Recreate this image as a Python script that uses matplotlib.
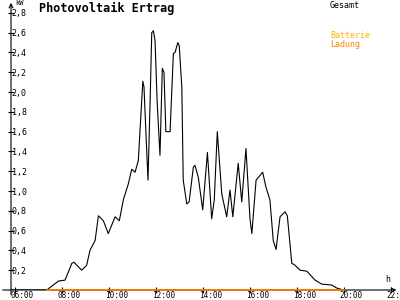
import matplotlib.pyplot as plt
from matplotlib.transforms import ScaledTranslation

# Gesamt (total) output in kW over time of day (hours)
hours = [5.84, 7.36, 7.86, 8.14, 8.43, 8.52, 8.85, 9.06, 9.20, 9.42, 9.56, 9.77, 9.98,
         10.27, 10.45, 10.62, 10.83, 10.98, 11.12, 11.26, 11.33, 11.45, 11.50, 11.62,
         11.67, 11.76, 11.83, 11.90, 11.97, 12.06, 12.18, 12.28, 12.35, 12.43, 12.61,
         12.75, 12.82, 12.94, 13.00, 13.11, 13.17, 13.32, 13.42, 13.60, 13.67, 13.81,
         14.00, 14.20, 14.38, 14.49, 14.62, 14.81, 15.02, 15.16, 15.28, 15.51, 15.66,
         15.84, 16.01, 16.09, 16.27, 16.55, 16.69, 16.86, 17.00, 17.12, 17.29, 17.50,
         17.60, 17.79, 17.93, 18.14, 18.43, 18.78, 19.06, 19.49, 19.70, 19.99]
total_kw = [0.0, 0.0, 0.09, 0.10, 0.27, 0.28, 0.20, 0.25, 0.40, 0.50, 0.75, 0.70, 0.57,
            0.74, 0.70, 0.91, 1.07, 1.22, 1.19, 1.31, 1.61, 2.11, 2.05, 1.38,
            1.11, 1.90, 2.60, 2.62, 2.52, 1.90, 1.36, 2.24, 2.20, 1.60, 1.60,
            2.39, 2.40, 2.50, 2.47, 2.05, 1.11, 0.87, 0.89, 1.24, 1.26, 1.14,
            0.81, 1.39, 0.72, 0.91, 1.60, 0.97, 0.74, 1.01, 0.74, 1.28, 0.89,
            1.43, 0.72, 0.57, 1.11, 1.19, 1.04, 0.91, 0.50, 0.41, 0.74, 0.79,
            0.75, 0.27, 0.25, 0.20, 0.19, 0.10, 0.06, 0.05, 0.02, 0.0]

# Batterie Ladung (battery charging)
charge_hours = [7.36, 20.0]
charge_kw = [0.0, 0.0]

x_ticks = [6, 8, 10, 12, 14, 16, 18, 20, 22]
x_labels = ["06:00", "08:00", "10:00", "12:00", "14:00", "16:00", "18:00", "20:00", "22:00"]
y_ticks = [0.2, 0.4, 0.6, 0.8, 1.0, 1.2, 1.4, 1.6, 1.8, 2.0, 2.2, 2.4, 2.6, 2.8]
y_labels = ["0,2", "0,4", "0,6", "0,8", "1,0", "1,2", "1,4", "1,6", "1,8",
            "2,0", "2,2", "2,4", "2,6", "2,8"]

mono = "DejaVu Sans Mono"
fig = plt.figure(figsize=(4, 3), dpi=100)
ax = fig.add_axes([11 / 400, 10 / 300, 387 / 400, 286 / 300])
ax.set_xlim(5.84, 22.31)
ax.set_ylim(0, 2.89)

ax.plot(hours, total_kw, color="black", linewidth=0.8)
ax.plot(charge_hours, charge_kw, color="#ff8000", linewidth=1.2, clip_on=False, zorder=5)

for s in ax.spines.values():
    s.set_visible(False)

# axis lines with arrows
ax.annotate("", xy=(5.84, 2.93), xytext=(5.84, -0.075),
            arrowprops=dict(arrowstyle="->", lw=0.8, color="black", mutation_scale=7),
            annotation_clip=False)
ax.annotate("", xy=(22.36, 0), xytext=(5.37, 0),
            arrowprops=dict(arrowstyle="->", lw=0.8, color="black", mutation_scale=7),
            annotation_clip=False, zorder=1)

ax.set_xticks(x_ticks)
ax.set_xticklabels(x_labels, fontsize=5.5, family=mono)
ax.set_yticks(y_ticks)
ax.set_yticklabels(y_labels, fontsize=6, family=mono)
ax.tick_params(axis="both", direction="inout", length=5, width=0.8, color="black")
ax.tick_params(axis="y", pad=-3)
ax.tick_params(axis="x", pad=-1.5)
for lab in ax.get_yticklabels():
    lab.set_horizontalalignment("left")
for lab in ax.get_xticklabels():
    lab.set_horizontalalignment("left")
    lab.set_transform(lab.get_transform() + ScaledTranslation(-4 / 100, 0, fig.dpi_scale_trans))

fig.text(15 / 400, 1 - 3 / 300, "kW", fontsize=5, family=mono, va="center")
fig.text(385 / 400, 1 - 280 / 300, "h", fontsize=6, family=mono, va="center")
fig.text(39 / 400, 1 - 8 / 300, "Photovoltaik Ertrag", fontsize=8.5, family=mono,
         fontweight="bold", va="center")
fig.text(330 / 400, 1 - 5 / 300, "Gesamt", fontsize=6, family=mono, va="center")
fig.text(330 / 400, 1 - 36 / 300, "Batterie", fontsize=6, family=mono, va="center",
         color="#ffb000")
fig.text(330 / 400, 1 - 44 / 300, "Ladung", fontsize=6, family=mono, va="center",
         color="#ff8000")

fig.savefig("out.png", dpi=100)
